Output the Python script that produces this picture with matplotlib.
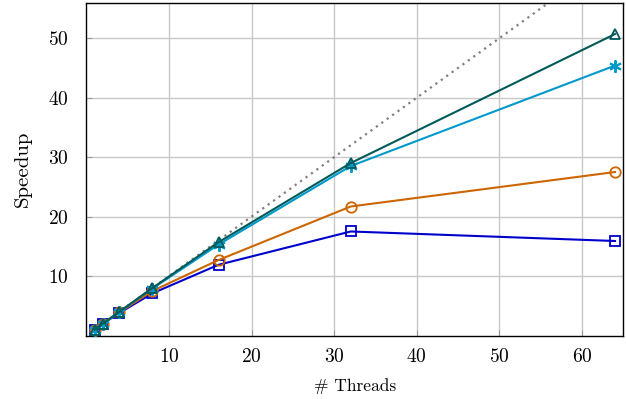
import matplotlib
matplotlib.use("Agg")
import matplotlib.pyplot as plt

plt.rcParams['font.family'] = ['cmr10', 'DejaVu Serif']
plt.rcParams['axes.formatter.use_mathtext'] = True

threads = [1, 2, 4, 8, 16, 32, 64]
ideal = [1, 2, 4, 8, 16, 32, 64]
s_blue = [1.0, 2.0, 3.8, 7.1, 11.9, 17.5, 15.9]
s_orange = [1.0, 2.0, 3.9, 7.5, 12.7, 21.7, 27.5]
s_cyan = [1.0, 2.0, 4.0, 7.9, 15.3, 28.5, 45.4]
s_teal = [1.0, 2.0, 4.0, 8.0, 15.7, 29.0, 50.7]

xticks = [10, 20, 30, 40, 50, 60]
yticks = [10, 20, 30, 40, 50]

fig = plt.figure(figsize=(6.26, 3.99), dpi=100)
ax = fig.add_axes([0.1379, 0.159, 0.8578, 0.8347])

ax.plot(threads, ideal, color='#808080', linestyle=(0, (1, 2)), linewidth=1.6, zorder=2)
ax.plot(threads, s_blue, color='#0000cc', marker='s', markersize=7, markerfacecolor='none',
        markeredgewidth=1.3, linewidth=1.5, zorder=3)
ax.plot(threads, s_orange, color='#cc6600', marker='o', markersize=7.5, markerfacecolor='none',
        markeredgewidth=1.3, linewidth=1.5, zorder=4)
ax.plot(threads, s_cyan, color='#0099cc', marker=(6, 2, 0), markersize=9,
        markeredgewidth=1.4, linewidth=1.5, zorder=5)
ax.plot(threads, s_teal, color='#005a5a', marker='^', markersize=7, markerfacecolor='none',
        markeredgewidth=1.3, linewidth=1.5, zorder=6)

ax.set_xlim(0, 65)
ax.set_ylim(0, 56)
ax.set_xticks(xticks)
ax.set_yticks(yticks)
ax.grid(True, color='#c8c8c8', linewidth=1.0, zorder=0)
ax.set_axisbelow(True)
ax.tick_params(direction='in', length=4, color='#999999', labelsize=14, width=0.8)
ax.tick_params(axis='x', pad=9)
ax.tick_params(axis='y', pad=13)
for s in ax.spines.values():
    s.set_linewidth(1.0)
    s.set_color('black')

ax.set_xlabel('# Threads', fontsize=12.5, labelpad=9)
ax.set_ylabel('Speedup', fontsize=15, labelpad=11)

fig.savefig('out.png', dpi=100)
